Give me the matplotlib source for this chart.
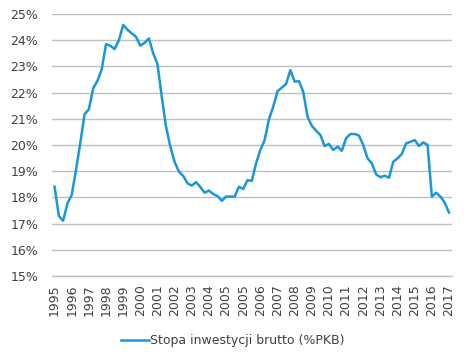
import matplotlib
matplotlib.use("Agg")
import matplotlib.pyplot as plt

# Quarterly gross investment rate (% of GDP)
values = [
    18.41, 17.29, 17.11, 17.77, 18.09, 19.05, 20.08, 21.18, 21.36, 22.16,
    22.45, 22.89, 23.85, 23.79, 23.66, 24.00, 24.58, 24.40, 24.26, 24.13,
    23.79, 23.90, 24.07, 23.50, 23.09, 21.84, 20.70, 19.94, 19.36, 18.98,
    18.82, 18.54, 18.45, 18.58, 18.40, 18.18, 18.26, 18.13, 18.05, 17.87,
    18.03, 18.03, 18.03, 18.41, 18.32, 18.66, 18.63, 19.30, 19.81, 20.19,
    20.98, 21.46, 22.05, 22.19, 22.33, 22.86, 22.42, 22.44, 22.03, 21.08,
    20.73, 20.55, 20.38, 19.96, 20.04, 19.81, 19.94, 19.78, 20.26, 20.42,
    20.42, 20.36, 20.00, 19.49, 19.30, 18.88, 18.77, 18.83, 18.75, 19.36,
    19.49, 19.66, 20.06, 20.12, 20.19, 19.96, 20.10, 20.00, 18.03, 18.18,
    18.03, 17.80, 17.42,
]
tick_labels = ["1995", "1996", "1997", "1998", "1999", "2000", "2001", "2002",
               "2003", "2004", "2005", "2005", "2006", "2007", "2008", "2009",
               "2010", "2011", "2012", "2013", "2014", "2015", "2016", "2017"]
y_ticks = [15, 16, 17, 18, 19, 20, 21, 22, 23, 24, 25]
series_name = "Stopa inwestycji brutto (%PKB)"

plt.rcParams['font.family'] = ['DejaVu Sans']

fig = plt.figure(figsize=(4.66, 3.6), dpi=100)
ax = fig.add_axes([52/466, 1-276/360, 400/466, 262/360])

line_color = '#1b96d9'
text_color = '#404040'

x = list(range(len(values)))
ax.plot(x, values, color=line_color, linewidth=1.8, label=series_name,
        solid_joinstyle='round')

ax.set_ylim(15, 25)
ax.set_xlim(-0.6, len(values) - 1 + 0.7)
ax.set_yticks(y_ticks)
ax.set_yticklabels([f"{v}%" for v in y_ticks])
ax.set_xticks(list(range(0, len(values), 4)))
ax.set_xticklabels(tick_labels, rotation=90)

ax.grid(axis='y', color='#c0c0c0', linewidth=1.0)
ax.set_axisbelow(True)
for s in ['top', 'right', 'left']:
    ax.spines[s].set_visible(False)
ax.spines['bottom'].set_color('#c0c0c0')
ax.spines['bottom'].set_linewidth(1.0)
ax.tick_params(axis='both', length=0, labelsize=9, colors=text_color)
ax.tick_params(axis='y', pad=10)
ax.tick_params(axis='x', pad=6)

leg = fig.legend(loc='center', bbox_to_anchor=(0.5, 0.053), frameon=False,
                 handlelength=2.2, handletextpad=0.1, fontsize=9)
for t in leg.get_texts():
    t.set_color(text_color)

fig.savefig("out.png", dpi=100)
